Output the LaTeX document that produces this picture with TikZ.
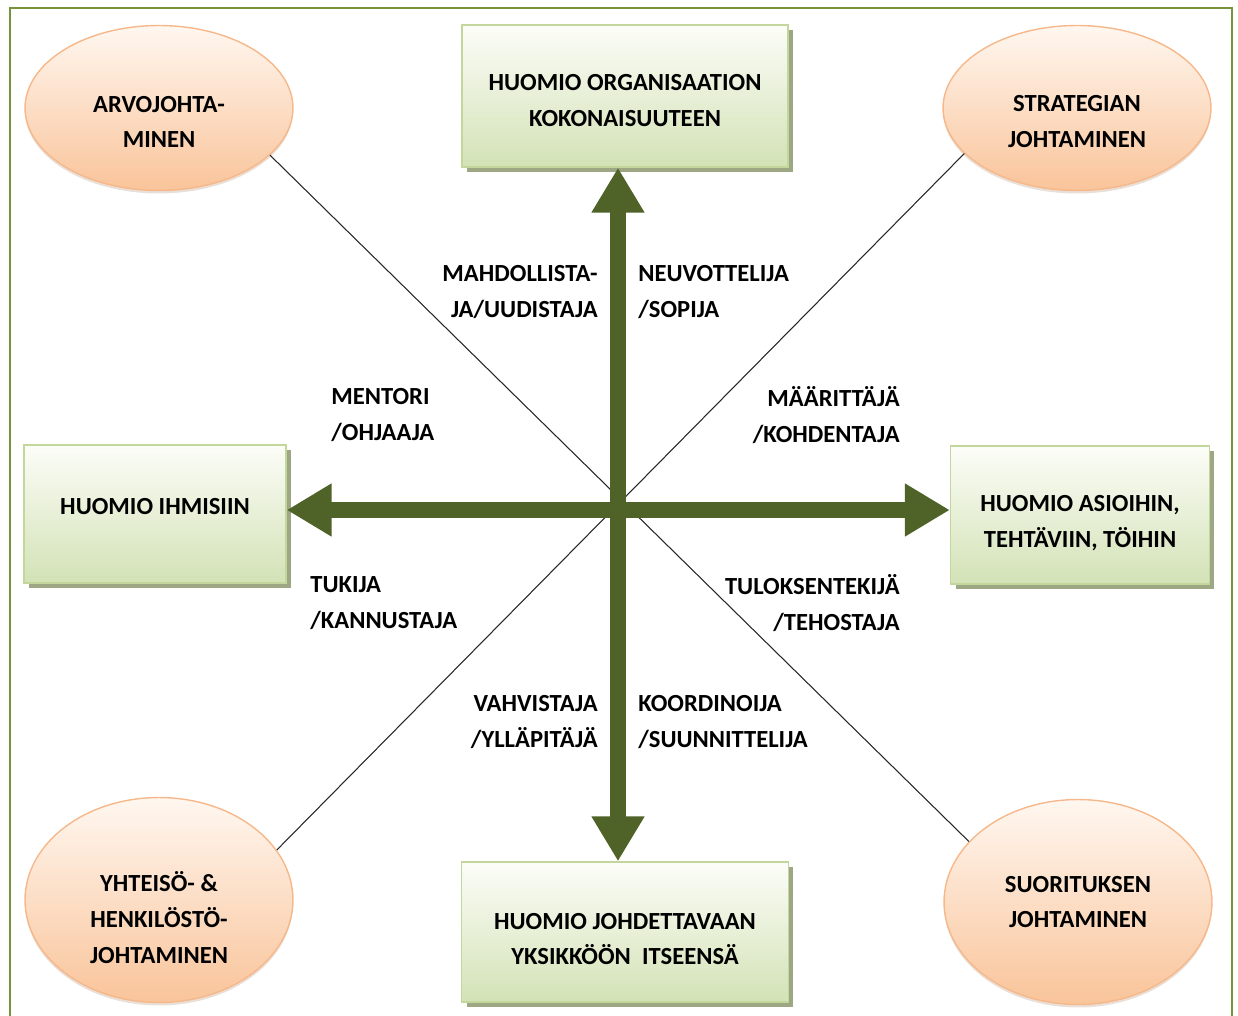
\documentclass[tikz,border=0pt]{standalone}
\usepackage{fontspec}
\setmainfont{Carlito}
\usetikzlibrary{positioning,shapes.geometric,arrows.meta,shadows}

\definecolor{frameolive}{HTML}{77933C}
\definecolor{axisgreen}{HTML}{4F6228}
\definecolor{peachtop}{HTML}{FFF7F0}
\definecolor{peachbot}{HTML}{F9C49A}
\definecolor{peachline}{HTML}{F6B88A}
\definecolor{sagetop}{HTML}{FCFDF8}
\definecolor{sagebot}{HTML}{D3E2B6}
\definecolor{sageline}{HTML}{C3D69B}
\definecolor{sageshadow}{HTML}{9EA783}

% invisible struts that push the text down / up inside a shape
\newcommand{\padtop}[1]{\rule{0pt}{#1}}
\newcommand{\padbot}[1]{\rule[-#1]{0pt}{#1}}

\begin{document}
\begin{tikzpicture}[x=0.02cm,y=-0.02cm]
		% Define node styles
		\tikzstyle{role} = [ellipse, draw=peachline, line width=0.8pt, top color=peachtop, bottom color=peachbot, inner sep=0pt, minimum width=5.36cm, minimum height=3.3cm, align=center, font=\bfseries\fontsize{14}{20.4}\selectfont, drop shadow={shadow xshift=0cm, shadow yshift=-0.06cm, opacity=0.25, fill=peachline!70!black}];
		\tikzstyle{tallrole} = [role, minimum height=4.1cm];
		\tikzstyle{focus} = [rectangle, draw=sageline, line width=0.8pt, top color=sagetop, bottom color=sagebot, inner sep=0pt, align=center, font=\bfseries\fontsize{14}{20.4}\selectfont, drop shadow={shadow xshift=0.1cm, shadow yshift=-0.1cm, opacity=1, fill=sageshadow}];
		\tikzstyle{lbl} = [font=\bfseries\fontsize{14}{20.4}\selectfont, inner sep=0pt];
		\tikzstyle{thickarrow} = [draw=axisgreen, line width=0.32cm, {Triangle[length=0.9cm,width=1cm]}-{Triangle[length=0.9cm,width=1cm]}];
		
		\useasboundingbox (0,0) rectangle (1238,1015);
		
		% Frame (bottom edge lies below the page)
		\draw[frameolive, line width=0.04cm] (10,1020) -- (10,8) -- (1232,8) -- (1232,1020);
		
		% Leadership styles (corners)
		\node[role] (values) at (159,108) {\padtop{0.88cm}ARVOJOHTA-\\MINEN};
		\node[role] (strategy) at (1077,108) {\padtop{0.88cm}STRATEGIAN\\JOHTAMINEN};
		\node[tallrole] (community) at (159,900) {\padtop{1.11cm}YHTEISÖ- \&\\HENKILÖSTÖ-\\JOHTAMINEN};
		\node[tallrole] (performance) at (1078,902) {SUORITUKSEN\\JOHTAMINEN};
		
		% Focus boxes
		\node[focus, minimum width=6.52cm, minimum height=2.84cm] (orgbox) at (625,96) {\padtop{0.52cm}HUOMIO ORGANISAATION\\KOKONAISUUTEEN};
		\node[focus, minimum width=5.24cm, minimum height=2.76cm] (peoplebox) at (155,514) {HUOMIO IHMISIIN\padbot{0.32cm}};
		\node[focus, minimum width=5.18cm, minimum height=2.76cm] (taskbox) at (1080,515) {\padtop{0.64cm}HUOMIO ASIOIHIN,\\TEHTÄVIIN, TÖIHIN};
		\node[focus, minimum width=6.54cm, minimum height=2.8cm] (unitbox) at (625,932) {\padtop{0.6cm}HUOMIO JOHDETTAVAAN\\YKSIKKÖÖN\ \ ITSEENSÄ};
		
		% Diagonals between the corner ellipses
		\draw[black!85, line width=0.6pt] (values.-23) -- (performance.151);
		\draw[black!85, line width=0.6pt] (strategy.202) -- (community.23);
		
		% Main axes
		\coordinate (hub) at (618,510);
		\draw[thickarrow] (hub |- orgbox.south) -- (hub |- unitbox.north);
		\draw[thickarrow] (peoplebox.east |- hub) -- (taskbox.west |- hub);
		
		% Roles along the axes
		\node[lbl, anchor=east, align=right] (enabler) at (598,292) {MAHDOLLISTA-\\JA/UUDISTAJA};
		\node[lbl, anchor=west, align=left] (negotiator) at (638,292) {NEUVOTTELIJA\\/SOPIJA};
		\node[lbl, anchor=west, align=left] (mentor) at (331,415) {MENTORI\\/OHJAAJA};
		\node[lbl, anchor=east, align=right] (definer) at (900,415) {MÄÄRITTÄJÄ\\/KOHDENTAJA};
		\node[lbl, anchor=west, align=left] (supporter) at (310,603) {TUKIJA\\/KANNUSTAJA};
		\node[lbl, anchor=east, align=right] (achiever) at (900,603) {TULOKSENTEKIJÄ\\/TEHOSTAJA};
		\node[lbl, anchor=east, align=right] (confirmer) at (598,722) {VAHVISTAJA\\/YLLÄPITÄJÄ};
		\node[lbl, anchor=west, align=left] (coordinator) at (638,722) {KOORDINOIJA\\/SUUNNITTELIJA};
	\end{tikzpicture}
\end{document}
